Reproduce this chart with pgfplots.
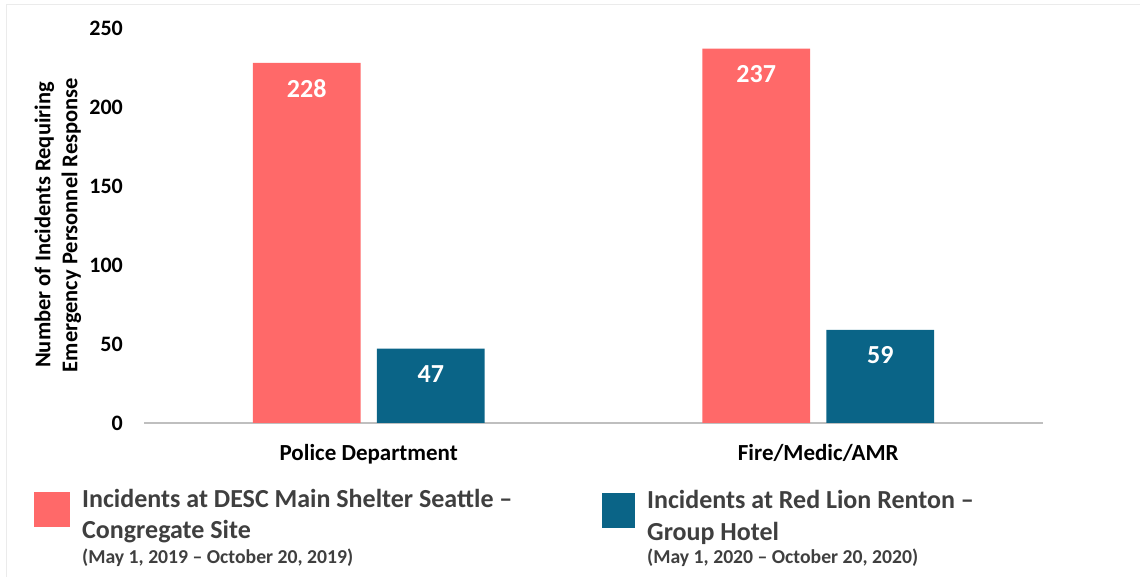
\documentclass[border=0pt]{standalone}
\usepackage{pgfplots}
\pgfplotsset{compat=1.18}
\usepackage{fontspec}
\setmainfont{Carlito}
\definecolor{salmon}{HTML}{FF6969}
\definecolor{tealb}{HTML}{0A6487}
\definecolor{legtext}{HTML}{3F3F3F}
\definecolor{axisgray}{HTML}{BFBFBF}
\begin{document}
\begin{tikzpicture}[x=1pt,y=1pt]
\path[use as bounding box] (0,0) rectangle (1140,577);
\draw[black!8, line width=1pt] (6,0) -- (6,572) -- (1140,572);
\begin{axis}[
 at={(144pt,154pt)}, anchor=south west,
 scale only axis, width=899pt, height=395pt,
 xmin=-0.5, xmax=1.5, ymin=0, ymax=250,
 ytick={0,50,...,250}, xtick={0,1}, xticklabels={Police Department, Fire/Medic/AMR},
 axis x line*=bottom, axis y line*=left,
 y axis line style={draw=none},
 x axis line style={draw=axisgray, line width=1.5pt},
 major tick length=0pt,
 /pgf/number format/assume math mode=true,
 ticklabel style={font=\fontsize{22}{26}\selectfont\bfseries, text=black, inner sep=0pt},
 yticklabel style={anchor=east, xshift=-21pt},
 xticklabel style={anchor=base, yshift=-38pt, font=\fontsize{23}{27}\selectfont\bfseries},
 ybar, bar width=0.24,
 nodes near coords,
 nodes near coords align={below},
 every node near coord/.append style={font=\fontsize{26}{30}\selectfont\bfseries, text=white, anchor=north, inner sep=0pt, yshift=-16.8pt},
 clip=false,
]
\addplot[fill=salmon, draw=none, bar shift=-0.138] coordinates {(0,228) (1,237)};
\addplot[fill=tealb, draw=none, bar shift=0.138] coordinates {(0,47) (1,59)};
\end{axis}
\node[rotate=90, align=center, font=\fontsize{22.5}{27}\selectfont\bfseries] at (58,352) {Number of Incidents Requiring\\Emergency Personnel Response};
\fill[salmon] (34,50) rectangle (70,85);
\begin{scope}[every node/.style={anchor=base west, inner sep=0pt, text=legtext}]
\node[font=\fontsize{26}{31}\selectfont\bfseries] at (82,69) {Incidents at DESC Main Shelter Seattle –};
\node[font=\fontsize{26}{31}\selectfont\bfseries] at (82,38) {Congregate Site};
\node[font=\fontsize{19.7}{24}\selectfont\bfseries] at (82,13) {(May 1, 2019 – October 20, 2019)};
\end{scope}
\fill[tealb] (602,49) rectangle (635,84);
\begin{scope}[every node/.style={anchor=base west, inner sep=0pt, text=legtext}]
\node[font=\fontsize{26}{31}\selectfont\bfseries] at (647,68) {Incidents at Red Lion Renton –};
\node[font=\fontsize{26}{31}\selectfont\bfseries] at (647,36) {Group Hotel};
\node[font=\fontsize{19.7}{24}\selectfont\bfseries] at (647,13) {(May 1, 2020 – October 20, 2020)};
\end{scope}
\end{tikzpicture}
\end{document}
